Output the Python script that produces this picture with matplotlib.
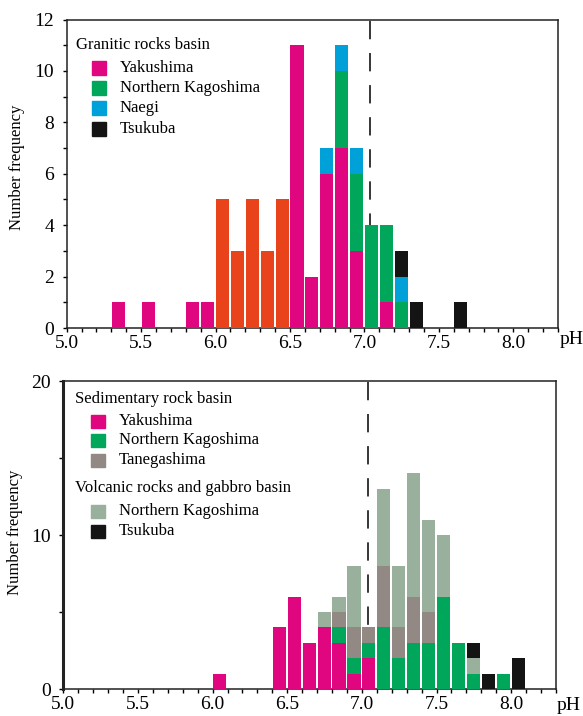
import matplotlib

matplotlib.use("Agg")
import matplotlib.pyplot as plt
import numpy as np
from matplotlib.patches import Rectangle

# ---- data: counts per 0.1 pH bin (bin start values) ----
top_ph = [5.3, 5.4, 5.5, 5.6, 5.7, 5.8, 5.9, 6.0, 6.1, 6.2, 6.3, 6.4,
          6.5, 6.6, 6.7, 6.8, 6.9, 7.0, 7.1, 7.2, 7.3, 7.4, 7.5, 7.6]
top_orange = [0, 0, 0, 0, 0, 0, 0, 5, 3, 5, 3, 5, 0, 0, 0, 0, 0, 0, 0, 0, 0, 0, 0, 0]
top_yakushima = [1, 0, 1, 0, 0, 1, 1, 0, 0, 0, 0, 0, 11, 2, 6, 7, 3, 0, 1, 0, 0, 0, 0, 0]
top_n_kagoshima = [0, 0, 0, 0, 0, 0, 0, 0, 0, 0, 0, 0, 0, 0, 0, 3, 3, 4, 3, 1, 0, 0, 0, 0]
top_naegi = [0, 0, 0, 0, 0, 0, 0, 0, 0, 0, 0, 0, 0, 0, 1, 1, 1, 0, 0, 1, 0, 0, 0, 0]
top_tsukuba = [0, 0, 0, 0, 0, 0, 0, 0, 0, 0, 0, 0, 0, 0, 0, 0, 0, 0, 0, 1, 1, 0, 0, 1]

bot_ph = [6.0, 6.1, 6.2, 6.3, 6.4, 6.5, 6.6, 6.7, 6.8, 6.9, 7.0,
          7.1, 7.2, 7.3, 7.4, 7.5, 7.6, 7.7, 7.8, 7.9, 8.0]
sed_yakushima = [1, 0, 0, 0, 4, 6, 3, 4, 3, 1, 2, 0, 0, 0, 0, 0, 0, 0, 0, 0, 0]
sed_n_kagoshima = [0, 0, 0, 0, 0, 0, 0, 0, 1, 1, 1, 4, 2, 3, 3, 6, 3, 1, 0, 1, 0]
sed_tanegashima = [0, 0, 0, 0, 0, 0, 0, 0, 1, 2, 1, 4, 2, 3, 2, 0, 0, 0, 0, 0, 0]
vol_n_kagoshima = [0, 0, 0, 0, 0, 0, 0, 1, 1, 4, 0, 5, 4, 8, 6, 4, 0, 1, 0, 0, 0]
vol_tsukuba = [0, 0, 0, 0, 0, 0, 0, 0, 0, 0, 0, 0, 0, 0, 0, 0, 0, 1, 1, 0, 2]

neutral_ph = 7.04
x_labels = ["5.0", "5.5", "6.0", "6.5", "7.0", "7.5", "8.0"]

PINK = "#e0067f"
GREEN = "#00a65a"
BLUE = "#00a0d8"
BLACK = "#141414"
ORANGE = "#e8431a"
SAGE = "#98b09c"
TANE = "#928884"

W, H = 583, 716
plt.rcParams["font.family"] = ["Liberation Serif", "DejaVu Serif"]

fig = plt.figure(figsize=(W / 100, H / 100), dpi=100)


def px_axes(left, top, right, bottom):
  return fig.add_axes([left / W, 1 - bottom / H, (right - left) / W, (bottom - top) / H])


def stack(ax, ph, series):
  x = np.array(ph) + 0.003
  base = np.zeros(len(ph))
  for counts, color in series:
    c = np.array(counts, dtype=float)
    ax.bar(x, c, width=0.088, bottom=base, align="edge", color=color,
           linewidth=0, zorder=3)
    base += c


def style(ax, ymax, major, minor):
  ax.set_xlim(5.0, 8.3)
  ax.set_ylim(0, ymax)
  ax.set_xticks([float(v) for v in x_labels])
  ax.set_xticklabels(x_labels)
  ax.set_xticks(np.arange(5.0, 8.31, 0.1), minor=True)
  ax.set_yticks(np.arange(0, ymax + 0.1, major))
  ax.set_yticks(np.arange(0, ymax + 0.1, minor), minor=True)
  ax.tick_params(which="both", direction="out", length=3, width=1, labelsize=14)
  ax.tick_params(axis="x", pad=2)
  ax.tick_params(axis="y", pad=6)
  for s in ax.spines.values():
    s.set_linewidth(1.1)
    s.set_color("#222222")
  ax.axvline(neutral_ph, color="black", lw=1.1, linestyle=(0, (12, 9)), zorder=1)


def legend(x_title, entries):
  # entries: (y_px, label, color or None for a group title)
  for y, label, color in entries:
    if color is None:
      fig.text(x_title / W, 1 - y / H, label, fontsize=12, va="center", ha="left")
    else:
      fig.add_artist(Rectangle(((x_title + 16) / W, 1 - (y + 6.5) / H), 14 / W, 13 / H,
                               transform=fig.transFigure, color=color))
      fig.text((x_title + 44) / W, 1 - y / H, label, fontsize=12, va="center", ha="left")


# ---- top panel: granitic rocks ----
ax1 = px_axes(66.7, 19.5, 558, 328)
stack(ax1, top_ph, [(top_orange, ORANGE), (top_yakushima, PINK),
                    (top_n_kagoshima, GREEN), (top_naegi, BLUE),
                    (top_tsukuba, BLACK)])
style(ax1, 12, 2, 1)
fig.text(560 / W, 1 - 340 / H, "pH", fontsize=14, va="center", ha="left")
fig.text(17 / W, 1 - 167 / H, "Number frequency", fontsize=12, rotation=90,
         va="center", ha="center")
legend(76, [(45, "Granitic rocks basin", None),
            (68, "Yakushima", PINK),
            (88, "Northern Kagoshima", GREEN),
            (108, "Naegi", BLUE),
            (129, "Tsukuba", BLACK)])

# ---- bottom panel: sedimentary / volcanic ----
ax2 = px_axes(63.3, 381, 556, 689)
stack(ax2, bot_ph, [(sed_yakushima, PINK), (sed_n_kagoshima, GREEN),
                    (sed_tanegashima, TANE), (vol_n_kagoshima, SAGE),
                    (vol_tsukuba, BLACK)])
style(ax2, 20, 10, 5)
ax2.spines["left"].set_linewidth(2.2)
fig.text(557 / W, 1 - 706 / H, "pH", fontsize=14, va="center", ha="left")
fig.text(15 / W, 1 - 532 / H, "Number frequency", fontsize=12, rotation=90,
         va="center", ha="center")
legend(75, [(399, "Sedimentary rock basin", None),
            (421, "Yakushima", PINK),
            (440, "Northern Kagoshima", GREEN),
            (460, "Tanegashima", TANE),
            (488, "Volcanic rocks and gabbro basin", None),
            (511, "Northern Kagoshima", SAGE),
            (531, "Tsukuba", BLACK)])

fig.savefig("out.png", dpi=100)
